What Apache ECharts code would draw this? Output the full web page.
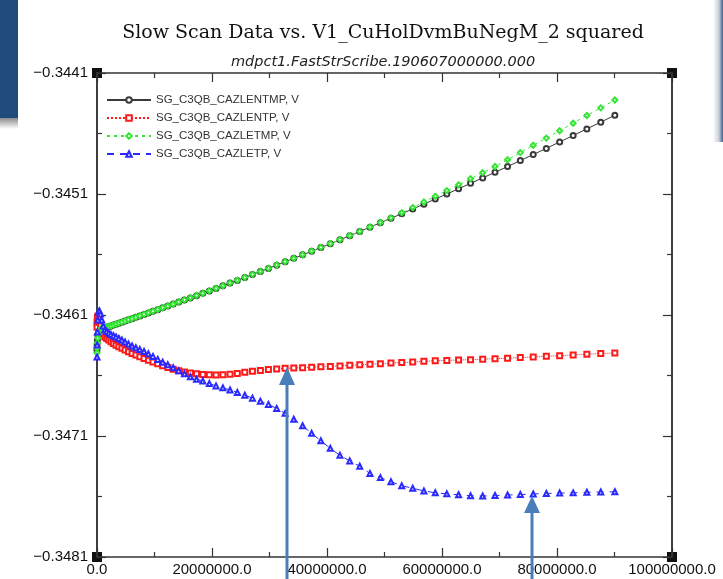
<!DOCTYPE html>
<html>
<head>
<meta charset="utf-8">
<script src="https://cdn.jsdelivr.net/npm/echarts@6/dist/echarts.min.js"></script>
<style>
  html, body { margin: 0; padding: 0; background: #fff; }
  #chart { width: 723px; height: 579px; }
</style>
</head>
<body>
<div id="chart"></div>
<script>
// x = V1 squared
const xVals = [
  0, 16900, 67600, 152100, 270400, 422500, 608400, 828100, 1081600, 1368900,
  1690000, 2044900, 2433600, 2856100, 3312400, 3802500, 4326400, 4884100, 5475600, 6100900,
  6760000, 7452900, 8179600, 8940100, 9734400, 10562500, 11424400, 12320100, 13249600, 14212900,
  15210000, 16240900, 17305600, 18404100, 19536400, 20702500, 21902400, 23136100, 24403600, 25704900,
  27040000, 28408900, 29811600, 31248100, 32718400, 34222500, 35760400, 37332100, 38937600, 40576900,
  42250000, 43956900, 45697600, 47472100, 49280400, 51122500, 52998400, 54908100, 56851600, 58828900,
  60840000, 62884900, 64963600, 67076100, 69222400, 71402500, 73616400, 75864100, 78145600, 80460900,
  82810000, 85192900, 87609600, 90060100
];

const seriesNames = [
  'SG_C3QB_CAZLENTMP, V',
  'SG_C3QB_CAZLENTP, V',
  'SG_C3QB_CAZLETMP, V',
  'SG_C3QB_CAZLETP, V'
];

const entmp = [
  -0.346389, -0.346348, -0.346307, -0.346265, -0.346240, -0.346224, -0.346216, -0.346207, -0.346207, -0.346207,
  -0.346202, -0.346197, -0.346191, -0.346183, -0.346176, -0.346168, -0.346160, -0.346150, -0.346140, -0.346131,
  -0.346119, -0.346108, -0.346096, -0.346083, -0.346069, -0.346056, -0.346041, -0.346026, -0.346010, -0.345993,
  -0.345976, -0.345959, -0.345940, -0.345921, -0.345901, -0.345880, -0.345859, -0.345836, -0.345814, -0.345790,
  -0.345765, -0.345741, -0.345715, -0.345688, -0.345660, -0.345632, -0.345603, -0.345573, -0.345542, -0.345511,
  -0.345478, -0.345445, -0.345410, -0.345374, -0.345338, -0.345301, -0.345263, -0.345224, -0.345184, -0.345142,
  -0.345100, -0.345057, -0.345012, -0.344967, -0.344921, -0.344873, -0.344824, -0.344774, -0.344723, -0.344670,
  -0.344617, -0.344562, -0.344506, -0.344449
];

const entp = [
  -0.346199, -0.346158, -0.346125, -0.346108, -0.346125, -0.346158, -0.346191, -0.346224, -0.346257, -0.346282,
  -0.346294, -0.346307, -0.346321, -0.346336, -0.346350, -0.346363, -0.346375, -0.346389, -0.346404, -0.346419,
  -0.346431, -0.346445, -0.346459, -0.346473, -0.346488, -0.346503, -0.346519, -0.346533, -0.346549, -0.346561,
  -0.346571, -0.346579, -0.346586, -0.346591, -0.346594, -0.346596, -0.346594, -0.346589, -0.346583, -0.346574,
  -0.346565, -0.346558, -0.346551, -0.346546, -0.346541, -0.346538, -0.346535, -0.346531, -0.346528, -0.346525,
  -0.346521, -0.346516, -0.346512, -0.346507, -0.346502, -0.346497, -0.346493, -0.346488, -0.346483, -0.346478,
  -0.346475, -0.346472, -0.346469, -0.346465, -0.346461, -0.346457, -0.346452, -0.346447, -0.346441, -0.346436,
  -0.346430, -0.346424, -0.346419, -0.346414
];

const etmp = [
  -0.346414, -0.346373, -0.346331, -0.346290, -0.346257, -0.346232, -0.346216, -0.346207, -0.346207, -0.346206,
  -0.346201, -0.346196, -0.346190, -0.346182, -0.346175, -0.346167, -0.346159, -0.346149, -0.346139, -0.346130,
  -0.346118, -0.346107, -0.346095, -0.346082, -0.346068, -0.346055, -0.346040, -0.346025, -0.346009, -0.345992,
  -0.345975, -0.345958, -0.345939, -0.345920, -0.345900, -0.345879, -0.345858, -0.345835, -0.345813, -0.345789,
  -0.345764, -0.345740, -0.345714, -0.345687, -0.345659, -0.345631, -0.345602, -0.345572, -0.345541, -0.345510,
  -0.345477, -0.345444, -0.345409, -0.345373, -0.345336, -0.345297, -0.345255, -0.345212, -0.345166, -0.345119,
  -0.345072, -0.345024, -0.344974, -0.344924, -0.344873, -0.344817, -0.344758, -0.344697, -0.344638, -0.344577,
  -0.344515, -0.344451, -0.344388, -0.344323
];

const etp = [
  -0.346447, -0.346348, -0.346240, -0.346141, -0.346075, -0.346067, -0.346092, -0.346141, -0.346191, -0.346224,
  -0.346236, -0.346249, -0.346262, -0.346271, -0.346282, -0.346294, -0.346307, -0.346324, -0.346340, -0.346356,
  -0.346371, -0.346386, -0.346402, -0.346421, -0.346442, -0.346467, -0.346490, -0.346512, -0.346536, -0.346560,
  -0.346586, -0.346610, -0.346631, -0.346645, -0.346667, -0.346686, -0.346702, -0.346720, -0.346740, -0.346763,
  -0.346787, -0.346812, -0.346839, -0.346872, -0.346913, -0.346961, -0.347015, -0.347078, -0.347140, -0.347202,
  -0.347260, -0.347306, -0.347350, -0.347410, -0.347444, -0.347478, -0.347511, -0.347532, -0.347554, -0.347569,
  -0.347578, -0.347586, -0.347594, -0.347596, -0.347592, -0.347588, -0.347584, -0.347579, -0.347575, -0.347571,
  -0.347570, -0.347565, -0.347563, -0.347561
];

// axis ticks
const yLabels = [-0.3481, -0.3471, -0.3461, -0.3451, -0.3441];
const yMinorTicks = [-0.3476, -0.3466, -0.3456, -0.3446];

var chartDom = document.getElementById('chart');
var myChart = echarts.init(chartDom);

const axisColor = '#333';
const labelFont = { fontFamily: 'Liberation Sans', fontSize: 15, color: '#111' };

function xAx(pos, showLabel) {
  return {
    type: 'value',
    position: pos,
    min: 0,
    max: 100000000,
    interval: 20000000,
    axisLine: { show: true, onZero: false, lineStyle: { color: axisColor, width: 1.5 } },
    axisTick: { show: true, inside: true, length: 9, lineStyle: { color: axisColor, width: 1.2 } },
    minorTick: { show: true, splitNumber: 2, length: 5, lineStyle: { color: axisColor, width: 1.2 } },
    splitLine: { show: false },
    axisLabel: Object.assign({
      show: showLabel,
      margin: 5,
      formatter: (v) => v.toFixed(1)
    }, labelFont)
  };
}

function yAx(pos, ticks, len, showLabel) {
  return {
    type: 'value',
    position: pos,
    min: -0.3481,
    max: -0.3441,
    axisLine: { show: true, onZero: false, lineStyle: { color: axisColor, width: 1.5 } },
    axisTick: { show: true, inside: true, length: len, customValues: ticks, lineStyle: { color: axisColor, width: 1.2 } },
    splitLine: { show: false },
    axisLabel: Object.assign({
      show: showLabel,
      margin: 9,
      customValues: ticks,
      formatter: (v) => '\u2212' + Math.abs(v).toFixed(4)
    }, labelFont)
  };
}

function makeSeries(name, vals, color, lineType, symbol, size) {
  return {
    name: name,
    type: 'line',
    xAxisIndex: 0,
    yAxisIndex: 0,
    symbol: symbol,
    symbolSize: size,
    showAllSymbol: true,
    color: color,
    lineStyle: { color: color, width: 1, type: lineType },
    itemStyle: { color: color, borderWidth: 1 },
    data: xVals.map((x, i) => [x, vals[i]])
  };
}

// arrows and slide decoration
function arrow(x, tip, base) {
  return [
    { type: 'line', shape: { x1: x, y1: base, x2: x, y2: 579 }, style: { stroke: '#4a7ebb', lineWidth: 3 }, z: 100 },
    { type: 'polygon', shape: { points: [[x, tip], [x - 8, base + 1], [x + 8, base + 1]] }, style: { fill: '#4a7ebb' }, z: 100 }
  ];
}

function corner(x, y) {
  return { type: 'rect', shape: { x: x - 5, y: y - 5, width: 10, height: 10 }, style: { fill: '#111' }, z: -1 };
}

option = {
  animation: false,
  backgroundColor: '#fff',
  grid: { left: 97, right: 51, top: 73, bottom: 22 },
  xAxis: [xAx('bottom', true), xAx('top', false)],
  yAxis: [
    yAx('left', yLabels, 9, true),
    yAx('right', yLabels, 9, false),
    yAx('left', yMinorTicks, 5, false),
    yAx('right', yMinorTicks, 5, false)
  ],
  legend: {
    data: seriesNames,
    orient: 'vertical',
    left: 101,
    top: 88,
    itemWidth: 44,
    itemHeight: 7,
    itemGap: 4,
    textStyle: { fontFamily: 'Liberation Sans', fontSize: 11.5, color: '#333', lineHeight: 14 }
  },
  series: [
    makeSeries(seriesNames[0], entmp, '#3a3a3a', 'solid', 'emptyCircle', 5),
    makeSeries(seriesNames[1], entp, '#ff1a1a', 'dotted', 'emptyRect', 5),
    makeSeries(seriesNames[2], etmp, '#33e633', [3, 4], 'emptyDiamond', 5),
    makeSeries(seriesNames[3], etp, '#2a2aff', [7, 6], 'emptyTriangle', 5)
  ],
  graphic: [
    { type: 'rect', shape: { x: 0, y: 0, width: 18, height: 118 }, style: { fill: '#1f4a7c' } },
    { type: 'rect', shape: { x: 0, y: 118, width: 18, height: 11 },
      style: { fill: new echarts.graphic.LinearGradient(0, 0, 0, 1, [{ offset: 0, color: '#8a8a8a' }, { offset: 1, color: '#ffffff' }]) } },
    { type: 'rect', shape: { x: 713, y: 0, width: 10, height: 142 },
      style: { fill: new echarts.graphic.LinearGradient(0, 0, 1, 0, [{ offset: 0, color: '#ffffff' }, { offset: 0.6, color: '#c9cfd8' }, { offset: 1, color: '#3d5f8c' }]) } },
    { type: 'text', x: 383, y: 33, style: { text: 'Slow Scan Data vs. V1_CuHolDvmBuNegM_2 squared', fontFamily: 'DejaVu Serif', fontSize: 19, fill: '#111', align: 'center', verticalAlign: 'middle' } },
    { type: 'text', x: 383, y: 62, style: { text: 'mdpct1.FastStrScribe.190607000000.000', fontFamily: 'DejaVu Sans', fontStyle: 'italic', fontSize: 14.5, fill: '#222', align: 'center', verticalAlign: 'middle' } },
    corner(97, 73), corner(672, 73), corner(97, 557), corner(672, 557)
  ].concat(arrow(287, 367, 384), arrow(532, 496, 512))
};

option && myChart.setOption(option);
</script>
</body>
</html>
